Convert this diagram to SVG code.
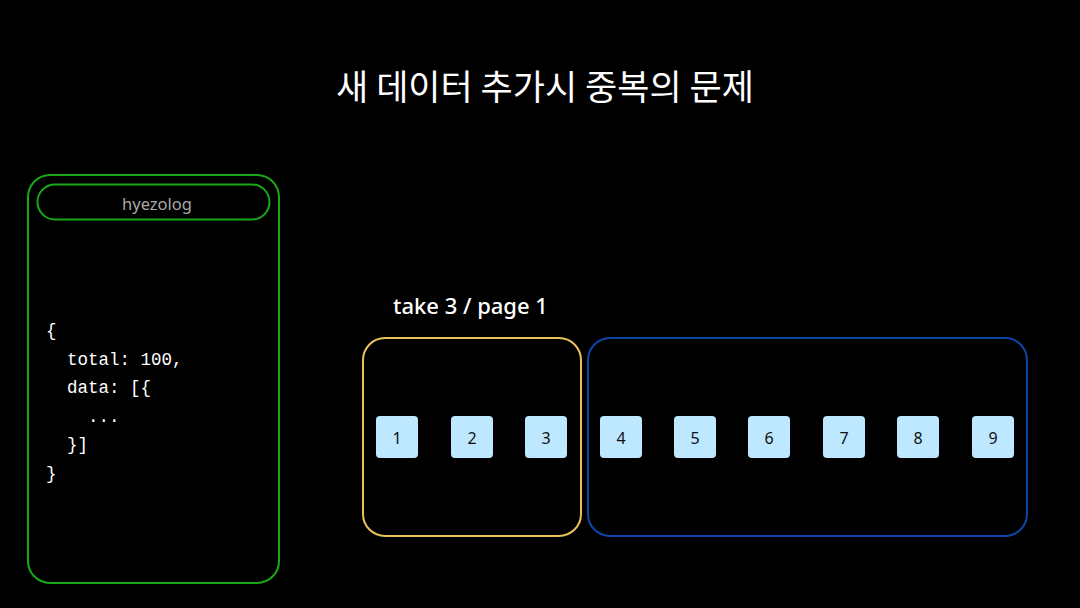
<svg xmlns="http://www.w3.org/2000/svg" width="1080" height="608" viewBox="0 0 1080 608">
<style>
.t{font-family:"Noto Sans","Liberation Sans",sans-serif}
.cell{fill:#bde8ff}
.num{font-family:"Noto Sans","Liberation Sans",sans-serif;font-size:16px;fill:#111;text-anchor:middle}
.code{font-family:"Liberation Mono","DejaVu Sans Mono",monospace;font-size:17.5px;fill:#fff;white-space:pre}
</style>
<rect width="1080" height="608" fill="#000"/>
<text x="545" y="100" font-family="Noto Sans CJK KR, sans-serif" font-size="35" fill="#fff" text-anchor="middle">새 데이터 추가시 중복의 문제</text>
<g id="hyezolog">
<rect x="28" y="175" width="251" height="408" rx="22" fill="none" stroke="#18a818" stroke-width="2"/>
<rect x="37.5" y="184.5" width="232" height="35" rx="17.5" fill="none" stroke="#18a818" stroke-width="2"/>
<text class="t" x="157" y="210" font-size="16.5" fill="#a8a8a8" text-anchor="middle">hyezolog</text>
<text class="code" x="46" y="336">{</text>
<text class="code" x="46" y="364.5">  total: 100,</text>
<text class="code" x="46" y="393">  data: [{</text>
<text class="code" x="46" y="421.5">    ...</text>
<text class="code" x="46" y="450">  }]</text>
<text class="code" x="46" y="478.5">}</text>
</g>
<text id="take-label" class="t" x="393" y="314" font-size="22" font-weight="500" fill="#fff">take 3 / page 1</text>
<g id="page1">
<rect x="363" y="338" width="218" height="198" rx="22" fill="none" stroke="#e8c25a" stroke-width="2"/>
</g>
<g id="rest">
<rect x="588" y="338" width="439" height="198" rx="22" fill="none" stroke="#0a48a8" stroke-width="2"/>
</g>
<g id="cell1"><rect class="cell" x="376" y="416" width="42" height="42" rx="4"/><text class="num" x="397" y="444">1</text></g>
<g id="cell2"><rect class="cell" x="451" y="416" width="42" height="42" rx="4"/><text class="num" x="472" y="444">2</text></g>
<g id="cell3"><rect class="cell" x="525" y="416" width="42" height="42" rx="4"/><text class="num" x="546" y="444">3</text></g>
<g id="cell4"><rect class="cell" x="600" y="416" width="42" height="42" rx="4"/><text class="num" x="621" y="444">4</text></g>
<g id="cell5"><rect class="cell" x="674" y="416" width="42" height="42" rx="4"/><text class="num" x="695" y="444">5</text></g>
<g id="cell6"><rect class="cell" x="748" y="416" width="42" height="42" rx="4"/><text class="num" x="769" y="444">6</text></g>
<g id="cell7"><rect class="cell" x="823" y="416" width="42" height="42" rx="4"/><text class="num" x="844" y="444">7</text></g>
<g id="cell8"><rect class="cell" x="897" y="416" width="42" height="42" rx="4"/><text class="num" x="918" y="444">8</text></g>
<g id="cell9"><rect class="cell" x="972" y="416" width="42" height="42" rx="4"/><text class="num" x="993" y="444">9</text></g>
<g id="connectors"/>
</svg>
